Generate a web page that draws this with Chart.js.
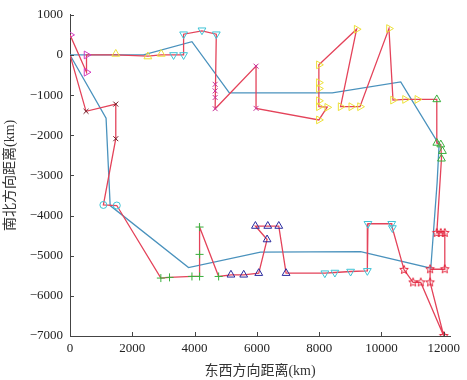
<!DOCTYPE html>
<html>
<head>
<meta charset="utf-8">
<script src="https://cdn.jsdelivr.net/npm/chart.js@4"></script>
<style>
  html, body { margin: 0; padding: 0; background: #fff; }
  #wrap { width: 467px; height: 380px; }
</style>
</head>
<body>
<div id="wrap"><canvas id="routeChart" width="467" height="380"></canvas></div>
<script>
// red route (visit order)
const routeX = [0, 530, 530, 1470, 2500, 2930, 3325, 3647, 3647, 4237, 4697, 4660, 5973, 5973, 7990, 8258, 7990, 7990, 9202, 8687, 9030, 9310, 10240, 10370, 10755, 11152, 11776, 11776, 11905, 11926, 11776, 11905, 12033, 12033, 11561, 11561, 12000, 11261, 11015, 10725, 10350, 10330, 9566, 9546, 9009, 8504, 8182, 6937, 6703, 6350, 5953, 6328, 6060, 5577, 5167, 4772, 4160, 4160, 3915, 3195, 2917, 1502, 1072, 1470, 1470, 515, 0];
const routeY = [500, -430, 0, 0, -30, 0, 0, 0, 517, 600, 517, -1340, -279, -1330, -1618, -1300, -1289, -246, 640, -1289, -1289, -1289, 657, -1125, -1108, -1108, -1108, -2192, -2233, -2586, -4433, -4433, -4433, -5337, -5337, -5665, -7000, -5665, -5665, -5352, -4310, -4204, -4204, -5377, -5394, -5419, -5435, -5435, -4261, -4261, -4261, -4597, -5435, -5476, -5476, -5517, -4286, -5517, -5517, -5540, -5557, -3750, -3736, -2086, -1224, -1404, 0];

// blue loop through cluster centres
const loopX = [0, 1158, 1290, 3806, 6113, 9331, 11583, 11787, 11850, 10618, 8420, 5116, 3915, 2359, 0];
const loopY = [0, -1576, -3751, -5296, -4910, -4900, -5312, -3177, -2233, -672, -944, -944, 330, 0, 0];

// marker groups
const magTriX = [0, 530, 530];
const magTriY = [500, 0, -430];
const darkCrossX = [515, 1470, 1470];
const darkCrossY = [-1404, -1224, -2086];
const yelTriX = [1470, 2500, 2930];
const yelTriY = [25, -40, 25];
const cyanTopX = [3325, 3647, 3647, 4237, 4697];
const cyanTopY = [0, 0, 517, 616, 517];
const magCrossX = [4660, 4660, 4660, 4660, 5973, 5973];
const magCrossY = [-731, -895, -1059, -1338, -279, -1330];
const yelSideX = [7990, 7990, 7990, 7990, 7990, 8258, 7990, 9202, 8687, 9030, 9310, 10240, 10370, 10755, 11152];
const yelSideY = [-246, -690, -837, -1141, -1289, -1306, -1618, 640, -1289, -1289, -1289, 657, -1125, -1108, -1108];
const greenTriX = [11776, 11776, 11905, 11958, 11926];
const greenTriY = [-1108, -2192, -2233, -2397, -2586];
const starX = [11776, 11905, 12033, 12033, 11561, 11561, 12000, 11261, 11015, 10725];
const starY = [-4433, -4433, -4433, -5337, -5337, -5665, -7000, -5665, -5665, -5352];
const cyanLowX = [10350, 10330, 9566, 9546, 9009, 8504, 8182];
const cyanLowY = [-4310, -4204, -4204, -5377, -5394, -5419, -5435];
const navyTriX = [6937, 6703, 6350, 5953, 6328, 6060, 5577, 5167];
const navyTriY = [-5435, -4261, -4261, -4261, -4597, -5435, -5476, -5476];
const plusX = [4772, 4160, 4160, 4160, 3915, 3195, 2917];
const plusY = [-5517, -4286, -4967, -5517, -5517, -5540, -5557];
const circX = [1502, 1072];
const circY = [-3750, -3736];

const xTicks = [0, 2000, 4000, 6000, 8000, 10000, 12000];
const yTicks = [1000, 0, -1000, -2000, -3000, -4000, -5000, -6000, -7000];

const serif = "'Liberation Serif', 'DejaVu Serif', serif";
const cjk = "'Liberation Serif', 'Noto Sans CJK SC', serif";

function pts(xs, ys) {
  return xs.map((x, i) => ({ x: x, y: ys[i] }));
}

// outlined five point star as a point image
function makeStar(color, r) {
  const c = document.createElement("canvas");
  const s = Math.ceil(r * 2 + 3);
  c.width = s;
  c.height = s;
  const g = c.getContext("2d");
  g.strokeStyle = color;
  g.lineWidth = 1;
  g.beginPath();
  for (let i = 0; i < 10; i++) {
    const rr = i % 2 === 0 ? r : r * 0.45;
    const a = -Math.PI / 2 + (i * Math.PI) / 5;
    const px = s / 2 + rr * Math.cos(a);
    const py = s / 2 + rr * Math.sin(a);
    if (i === 0) g.moveTo(px, py);
    else g.lineTo(px, py);
  }
  g.closePath();
  g.stroke();
  return c;
}

function markers(xs, ys, color, style, radius, rotation) {
  return {
    data: pts(xs, ys),
    showLine: false,
    pointStyle: style,
    pointRadius: radius,
    pointRotation: rotation || 0,
    pointBorderColor: color,
    pointBackgroundColor: "rgba(0,0,0,0)",
    pointBorderWidth: 1,
    order: 1,
  };
}

// inward tick marks
const tickMarks = {
  id: "tickMarks",
  afterDraw(chart) {
    const { ctx, scales } = chart;
    const area = chart.chartArea;
    ctx.save();
    ctx.strokeStyle = "#444";
    ctx.lineWidth = 1;
    xTicks.forEach((v) => {
      const px = Math.round(scales.x.getPixelForValue(v)) + 0.5;
      ctx.beginPath();
      ctx.moveTo(px, area.bottom);
      ctx.lineTo(px, area.bottom - 4);
      ctx.stroke();
    });
    yTicks.forEach((v) => {
      const py = Math.round(scales.y.getPixelForValue(v)) + 0.5;
      ctx.beginPath();
      ctx.moveTo(area.left, py);
      ctx.lineTo(area.left + 4, py);
      ctx.stroke();
    });
    ctx.restore();
  },
};

const ctx = document.getElementById("routeChart").getContext("2d");

new Chart(ctx, {
  type: "scatter",
  data: {
    datasets: [
      {
        data: pts(routeX, routeY),
        showLine: true,
        borderColor: "#e4435a",
        borderWidth: 1.3,
        pointRadius: 0,
        order: 2,
      },
      {
        data: pts(loopX, loopY),
        showLine: true,
        borderColor: "#4a92bd",
        borderWidth: 1.3,
        pointRadius: 0,
        order: 3,
      },
      markers(magTriX, magTriY, "#d23cc0", "triangle", 4.5, 90),
      markers(darkCrossX, darkCrossY, "#6e1a24", "crossRot", 3.5),
      markers(yelTriX, yelTriY, "#ece038", "triangle", 4.5),
      markers(cyanTopX, cyanTopY, "#3fc3d6", "triangle", 4.5, 180),
      markers(magCrossX, magCrossY, "#c8309a", "crossRot", 3.5),
      markers(yelSideX, yelSideY, "#ece038", "triangle", 4.5, 90),
      markers(greenTriX, greenTriY, "#38b03c", "triangle", 4.5),
      markers(starX, starY, "#e4223a", makeStar("#e4223a", 4.5), 4.5),
      markers(cyanLowX, cyanLowY, "#3fc3d6", "triangle", 4.5, 180),
      markers(navyTriX, navyTriY, "#2a2a9e", "triangle", 4.5),
      markers(plusX, plusY, "#38b03c", "cross", 4),
      markers(circX, circY, "#3fc3d6", "circle", 3.5),
    ],
  },
  options: {
    responsive: false,
    animation: false,
    layout: { padding: { left: 0, right: 17, top: 11, bottom: 0 } },
    plugins: {
      legend: { display: false },
      tooltip: { enabled: false },
    },
    scales: {
      x: {
        type: "linear",
        min: 0,
        max: 12200,
        grid: { display: false, drawTicks: false },
        border: { display: true, color: "#444", width: 1 },
        afterBuildTicks: (scale) => {
          scale.ticks = xTicks.map((v) => ({ value: v }));
        },
        afterFit: (scale) => {
          scale.height = 44;
        },
        ticks: {
          color: "#222",
          padding: 5,
          maxRotation: 0,
          font: { family: serif, size: 13 },
          callback: (v) => String(v),
        },
        title: {
          display: true,
          text: "东西方向距离(km)",
          color: "#333",
          font: { family: cjk, size: 14 },
          padding: { top: 2, bottom: 0 },
        },
      },
      y: {
        type: "linear",
        min: -7000,
        max: 1000,
        grid: { display: false, drawTicks: false },
        border: { display: true, color: "#444", width: 1 },
        afterBuildTicks: (scale) => {
          scale.ticks = yTicks.map((v) => ({ value: v }));
        },
        afterFit: (scale) => {
          scale.width = 70;
        },
        ticks: {
          color: "#222",
          padding: 7,
          font: { family: serif, size: 13 },
          callback: (v) => String(v).replace("-", "\u2212"),
        },
        title: {
          display: true,
          text: "南北方向距离(km)",
          color: "#333",
          font: { family: cjk, size: 14 },
          padding: { top: 2, bottom: 0 },
        },
      },
    },
  },
  plugins: [tickMarks],
});
</script>
</body>
</html>
